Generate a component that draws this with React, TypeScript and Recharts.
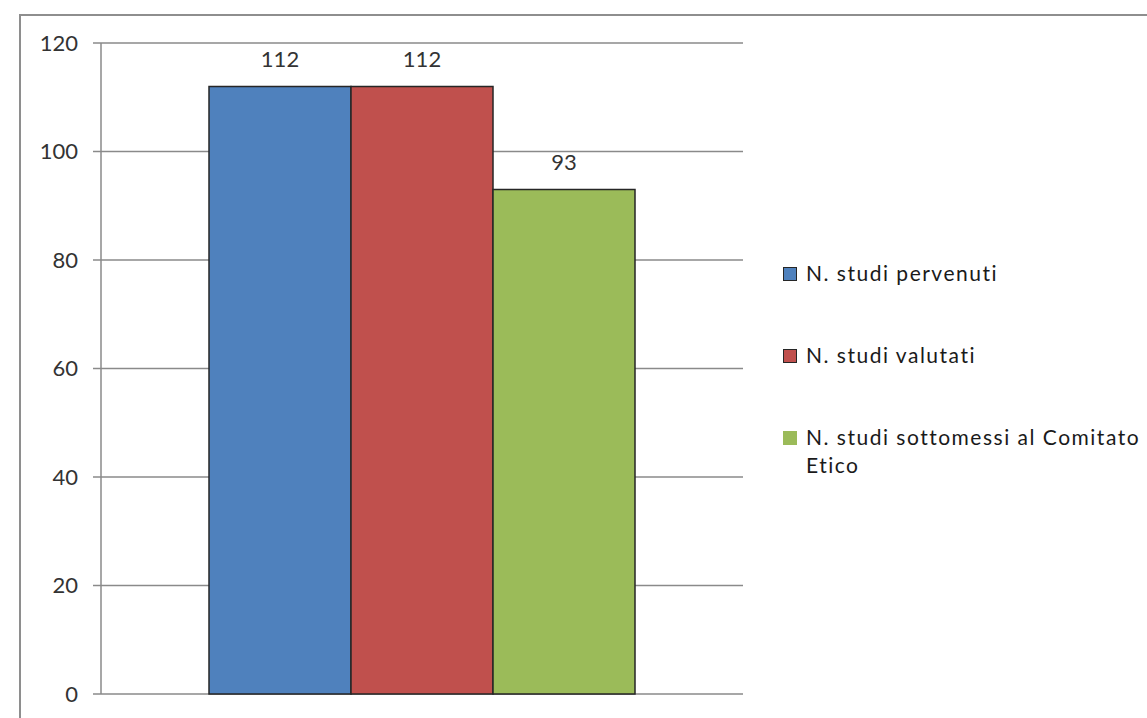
import { BarChart, Bar, YAxis, XAxis, CartesianGrid, Legend, LabelList } from 'recharts';

const categories = [''];
const seriesKeys = ['pervenuti', 'valutati', 'sottomessi'];
const seriesNames = ['N. studi pervenuti', 'N. studi valutati', 'N. studi sottomessi al Comitato Etico'];
const seriesColors = ['#4F81BD', '#C0504D', '#9BBB59'];
const pervenuti = [112];
const valutati = [112];
const sottomessi = [93];
const yTicks = [0, 20, 40, 60, 80, 100, 120];

const data = categories.map((name, i) => ({
  name,
  pervenuti: pervenuti[i],
  valutati: valutati[i],
  sottomessi: sottomessi[i],
}));

const FONT = 'Lato, "DejaVu Sans", sans-serif';

function LegendContent(props: any) {
  // keep series order, recharts sorts the payload by name
  const items = [...(props.payload || [])].sort(
    (a: any, b: any) => seriesKeys.indexOf(a.dataKey) - seriesKeys.indexOf(b.dataKey)
  );
  return (
    <div style={{ fontFamily: FONT, fontSize: 21, color: '#1a1a1a', lineHeight: '28px', letterSpacing: 1.5 }}>
      {items.map((item: any, i: number) => (
        <div key={i} style={{ display: 'flex', alignItems: 'flex-start', marginBottom: 54 }}>
          <span
            style={{
              display: 'inline-block',
              width: 12,
              height: 12,
              marginTop: 8,
              background: item.color,
              border: item.dataKey === 'sottomessi' ? '1px solid transparent' : '1px solid #262626',
              flex: 'none',
            }}
          />
          <span style={{ marginLeft: 9, width: 341 }}>{item.value}</span>
        </div>
      ))}
    </div>
  );
}

export default function App() {
  return (
    <div style={{ position: 'absolute', left: 0, top: 0, width: 1147, height: 718, overflow: 'hidden', background: '#fff' }}>
      <div
        style={{
          position: 'absolute',
          left: 19,
          top: 14,
          width: 1200,
          height: 800,
          borderLeft: '2px solid #8e8e8e',
          borderTop: '2px solid #8e8e8e',
        }}
      />
      <div style={{ position: 'absolute', left: 0, top: 0 }}>
        <BarChart
          width={1147}
          height={718}
          data={data}
          margin={{ top: 43, right: 404, left: 21, bottom: 24 }}
          barCategoryGap={108}
          barGap={0}
        >
          <CartesianGrid vertical={false} stroke="#8a8a8a" strokeWidth={1.5} />
          <XAxis dataKey="name" hide />
          <YAxis
            width={80}
            domain={[0, 120]}
            ticks={yTicks}
            interval={0}
            tickSize={8}
            tickMargin={15}
            axisLine={{ stroke: '#8a8a8a', strokeWidth: 1.5 }}
            tickLine={{ stroke: '#8a8a8a', strokeWidth: 1.5 }}
            tick={{ fill: '#333', fontSize: 22, fontFamily: FONT }}
          />
          <Legend
            layout="horizontal"
            verticalAlign="middle"
            align="center"
            content={LegendContent}
            wrapperStyle={{ left: 783, top: 259, width: 364 }}
          />
          {seriesKeys.map((key, i) => (
            <Bar
              key={key}
              dataKey={key}
              name={seriesNames[i]}
              fill={seriesColors[i]}
              stroke="#262626"
              strokeWidth={1.5}
              isAnimationActive={false}
            >
              <LabelList dataKey={key} position="top" offset={19} fill="#333" fontSize={22} fontFamily={FONT} />
            </Bar>
          ))}
        </BarChart>
      </div>
    </div>
  );
}
